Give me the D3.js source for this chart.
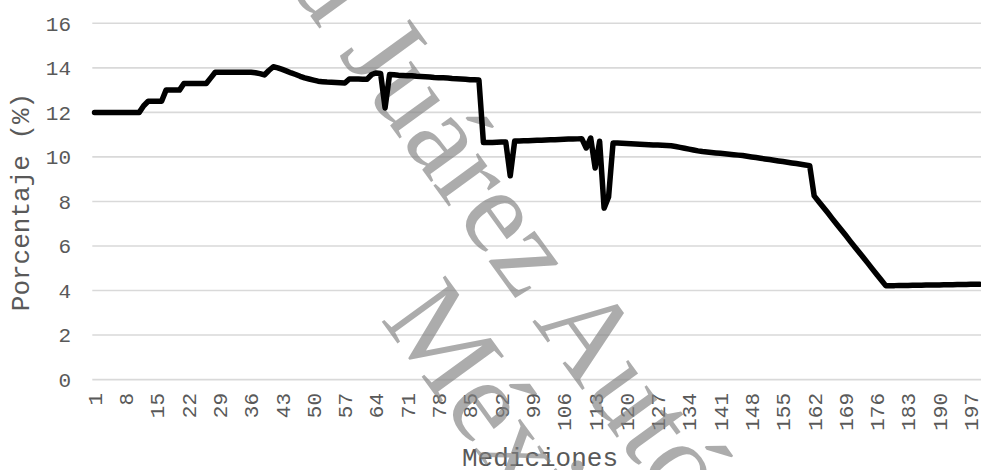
<!DOCTYPE html>
<html>
<head>
<meta charset="utf-8">
<script src="https://cdn.jsdelivr.net/npm/d3@7/dist/d3.min.js"></script>
<style>
  html, body { margin: 0; padding: 0; background: #ffffff; }
  svg { display: block; }
</style>
</head>
<body>
<div id="chart"></div>
<script>
// Porcentaje medido en cada una de las mediciones
const porcentaje = [
  12.0, 12.0, 12.0, 12.0, 12.0, 12.0, 12.0, 12.0, 12.0, 12.0,
  12.0, 12.3, 12.5, 12.5, 12.5, 12.5, 13.0, 13.0, 13.0, 13.0,
  13.3, 13.3, 13.3, 13.3, 13.3, 13.3, 13.55, 13.8, 13.8, 13.8,
  13.8, 13.8, 13.8, 13.8, 13.8, 13.8, 13.78, 13.74, 13.68, 13.88,
  14.05, 14.0, 13.93, 13.85, 13.77, 13.7, 13.62, 13.55, 13.5, 13.45,
  13.4, 13.38, 13.36, 13.35, 13.34, 13.33, 13.32, 13.5, 13.5, 13.5,
  13.49, 13.49, 13.7, 13.77, 13.75, 12.2, 13.70, 13.69, 13.67, 13.66,
  13.65, 13.64, 13.62, 13.61, 13.60, 13.59, 13.57, 13.56, 13.55, 13.54,
  13.52, 13.51, 13.50, 13.49, 13.47, 13.46, 13.45, 10.65, 10.65, 10.65,
  10.66, 10.67, 10.67, 9.15, 10.72, 10.72, 10.73, 10.73, 10.74, 10.75,
  10.75, 10.76, 10.77, 10.77, 10.78, 10.79, 10.80, 10.80, 10.81, 10.82,
  10.4, 10.85, 9.5, 10.7, 7.7, 8.2, 10.62, 10.62, 10.61, 10.60,
  10.59, 10.58, 10.57, 10.56, 10.55, 10.54, 10.53, 10.52, 10.51, 10.50,
  10.47, 10.43, 10.39, 10.35, 10.31, 10.27, 10.24, 10.22, 10.20, 10.18,
  10.16, 10.14, 10.12, 10.10, 10.08, 10.06, 10.03, 10.00, 9.97, 9.94,
  9.91, 9.88, 9.85, 9.82, 9.79, 9.76, 9.73, 9.70, 9.67, 9.64,
  9.61, 8.25, 8.0, 7.75, 7.5, 7.24, 6.99, 6.74, 6.49, 6.23,
  5.98, 5.73, 5.48, 5.23, 4.97, 4.72, 4.47, 4.22, 4.22, 4.22,
  4.23, 4.23, 4.23, 4.24, 4.24, 4.24, 4.25, 4.25, 4.25, 4.25,
  4.26, 4.26, 4.26, 4.27, 4.27, 4.27, 4.28, 4.28, 4.28
];

// Número de medición (eje de categorías)
const mediciones = porcentaje.map((_, i) => i + 1);

// Etiquetas visibles del eje X
const xTickLabels = [1, 8, 15, 22, 29, 36, 43, 50, 57, 64, 71, 78, 85, 92, 99,
  106, 113, 120, 127, 134, 141, 148, 155, 162, 169, 176, 183, 190, 197];

// Marcas del eje Y
const yTicks = [0, 2, 4, 6, 8, 10, 12, 14, 16];

const width = 981, height = 470;
const plot = { left: 92.3, right: 981.8, top: 23.3, bottom: 379.6 };

const svg = d3.select("#chart").append("svg")
  .attr("width", width)
  .attr("height", height);

const x = d3.scaleBand()
  .domain(mediciones)
  .range([plot.left, plot.right])
  .padding(0);

const y = d3.scaleLinear()
  .domain([0, 16])
  .range([plot.bottom, plot.top]);

const monoFont = "'Liberation Mono', 'Courier New', monospace";
const labelColor = "#595959";

// Líneas de cuadrícula horizontales
svg.append("g")
  .selectAll("line")
  .data(yTicks)
  .join("line")
  .attr("x1", plot.left)
  .attr("x2", width)
  .attr("y1", d => y(d))
  .attr("y2", d => y(d))
  .attr("stroke", "#d9d9d9")
  .attr("stroke-width", 1.6);

// Etiquetas del eje Y
svg.append("g")
  .selectAll("text")
  .data(yTicks)
  .join("text")
  .attr("x", 71)
  .attr("y", d => y(d))
  .attr("dy", "0.35em")
  .attr("text-anchor", "end")
  .attr("font-family", monoFont)
  .attr("font-size", 21)
  .attr("fill", labelColor)
  .text(d => d);

// Etiquetas del eje X, giradas
svg.append("g")
  .selectAll("text")
  .data(xTickLabels)
  .join("text")
  .attr("transform", d => `translate(${x(d) + x.bandwidth() / 2},393) rotate(-90)`)
  .attr("dy", "0.35em")
  .attr("text-anchor", "end")
  .attr("font-family", monoFont)
  .attr("font-size", 21)
  .attr("fill", labelColor)
  .text(d => d);

// Títulos de los ejes
svg.append("text")
  .attr("x", 540)
  .attr("y", 466)
  .attr("text-anchor", "middle")
  .attr("font-family", monoFont)
  .attr("font-size", 26)
  .attr("fill", labelColor)
  .text("Mediciones");

svg.append("text")
  .attr("transform", "translate(28.5,202) rotate(-90)")
  .attr("text-anchor", "middle")
  .attr("font-family", monoFont)
  .attr("font-size", 26)
  .attr("fill", labelColor)
  .text("Porcentaje (%)");

// Marca de agua institucional
const wm = svg.append("g")
  .attr("transform", "translate(338,54) rotate(54)")
  .attr("font-family", "'Liberation Serif', 'Times New Roman', serif")
  .attr("font-size", 120)
  .attr("fill", "#7f7f7f")
  .attr("fill-opacity", 0.65);

wm.append("text")
  .attr("x", 0).attr("y", 0)
  .attr("text-anchor", "end")
  .text("Universidad\u00a0");

wm.append("text")
  .attr("x", 0).attr("y", 0)
  .attr("text-anchor", "start")
  .text("Juárez Autónoma de Tabasco");

wm.append("text")
  .attr("x", 239).attr("y", 122)
  .attr("text-anchor", "start")
  .text("México");

// Serie principal
const line = d3.line()
  .x((d, i) => x(mediciones[i]) + x.bandwidth() / 2)
  .y(d => y(d));

svg.append("path")
  .datum(porcentaje)
  .attr("d", line)
  .attr("fill", "none")
  .attr("stroke", "#000000")
  .attr("stroke-width", 5.5)
  .attr("stroke-linejoin", "round")
  .attr("stroke-linecap", "round");
</script>
</body>
</html>
